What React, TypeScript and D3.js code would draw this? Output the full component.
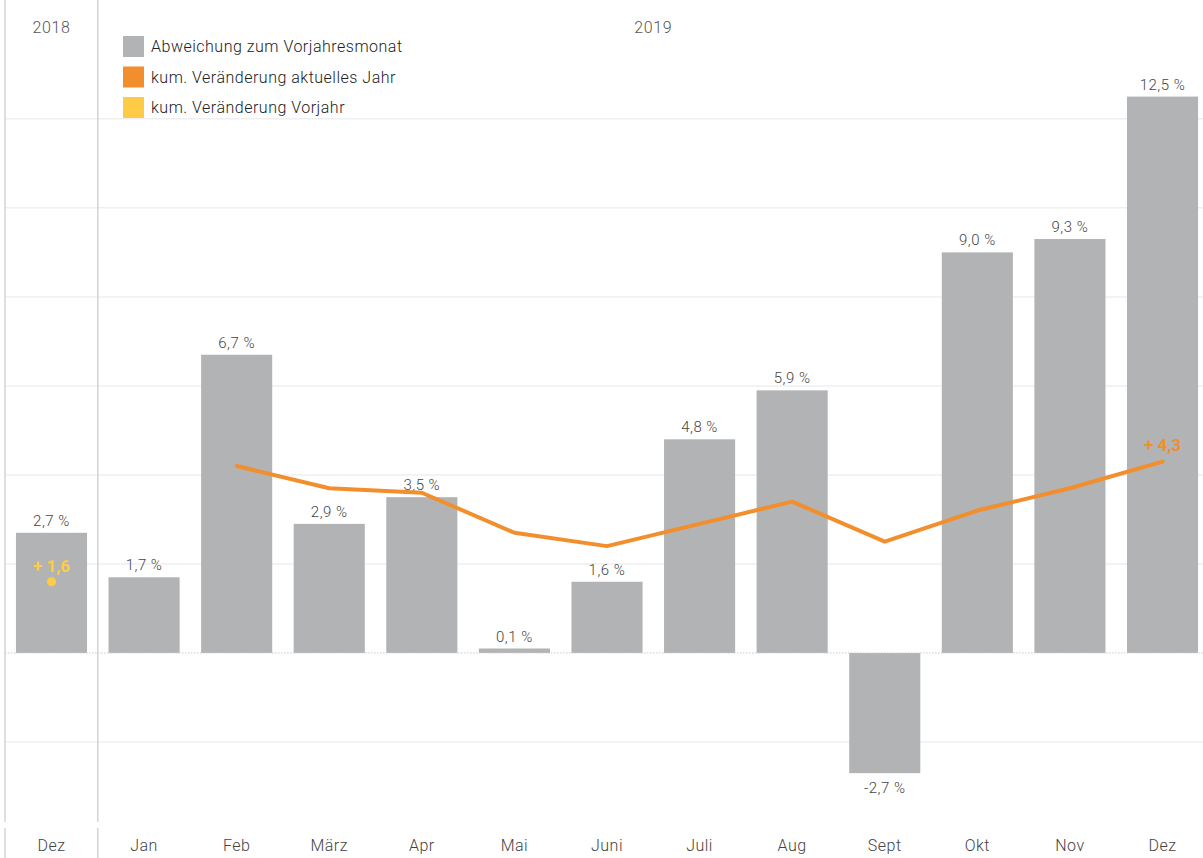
import * as d3 from "d3";
import React from "react";

const width = 1203;
const height = 858;

const keys = ["2018-12", "2019-01", "2019-02", "2019-03", "2019-04", "2019-05", "2019-06", "2019-07", "2019-08", "2019-09", "2019-10", "2019-11", "2019-12"];
const monthLabels = ["Dez", "Jan", "Feb", "März", "Apr", "Mai", "Juni", "Juli", "Aug", "Sept", "Okt", "Nov", "Dez"];
const deviation = [2.7, 1.7, 6.7, 2.9, 3.5, 0.1, 1.6, 4.8, 5.9, -2.7, 9.0, 9.3, 12.5];
const cumCurrent = [null, null, 4.2, 3.7, 3.6, 2.7, 2.4, 2.9, 3.4, 2.5, 3.2, 3.7, 4.3];
const cumPrevious = [1.6, null, null, null, null, null, null, null, null, null, null, null, null];
const gridTicks = [-2, 2, 4, 6, 8, 10, 12];
const legendItems = ["Abweichung zum Vorjahresmonat", "kum. Veränderung aktuelles Jahr", "kum. Veränderung Vorjahr"];

const grey = "#b2b3b5";
const orange = "#f28e2b";
const yellow = "#ffcb47";
const font = "Roboto, sans-serif";

const x = d3.scaleBand().domain(keys).range([5.2, 1208.8]).paddingInner(0.232).paddingOuter(0.116);
const y = d3.scaleLinear().domain([-4, 14.67]).range([831, 0]);

const fmt = (v) => v.toFixed(1).replace(".", ",");

const App = () => {
  const cx = (i) => x(keys[i]) + x.bandwidth() / 2;

  const line = d3
    .line()
    .defined((d) => d != null)
    .x((_, i) => cx(i))
    .y((d) => y(d));

  const lastIdx = cumCurrent.length - 1;
  const sepX = (x(keys[0]) + x.bandwidth() + x(keys[1])) / 2;
  const yearMid = (sepX + x.range()[1]) / 2;

  return (
    <svg width={width} height={height} style={{ position: "absolute", left: 0, top: 0, background: "#fff" }} fontFamily={font}>
      {/* gridlines */}
      {gridTicks.map((t) => (
        <line key={t} x1={5} x2={width} y1={y(t)} y2={y(t)} stroke="#efefef" strokeWidth={1.5} />
      ))}

      {/* year separators */}
      {[5, sepX].map((lx, i) => (
        <g key={i} stroke="#d4d4d4" strokeWidth={1.5}>
          <line x1={lx} x2={lx} y1={0} y2={822} />
          <line x1={lx} x2={lx} y1={828} y2={height} />
        </g>
      ))}

      <text x={cx(0)} y={33} textAnchor="middle" fontSize={16} fontWeight={300} letterSpacing={0.6} fill="#555">2018</text>
      <text x={yearMid} y={33} textAnchor="middle" fontSize={16} fontWeight={300} letterSpacing={0.6} fill="#555">2019</text>

      {/* bars */}
      {deviation.map((v, i) => (
        <rect
          key={keys[i]}
          x={x(keys[i])}
          y={y(Math.max(0, v))}
          width={x.bandwidth()}
          height={Math.abs(y(v) - y(0))}
          fill={grey}
        />
      ))}

      {/* zero line */}
      <line x1={5} x2={width} y1={y(0)} y2={y(0)} stroke="#c8c8c8" strokeDasharray="1.5,1.5" strokeWidth={1} />

      {/* bar labels */}
      {deviation.map((v, i) => (
        <text
          key={keys[i]}
          x={cx(i)}
          y={v >= 0 ? y(v) - 7 : y(v) + 20}
          textAnchor="middle"
          fontSize={15}
          fontWeight={300}
          letterSpacing={0.5}
          fill="#444"
        >
          {fmt(v) + " %"}
        </text>
      ))}

      {/* cumulative line */}
      <path d={line(cumCurrent)} fill="none" stroke={orange} strokeWidth={4} strokeLinejoin="round" strokeLinecap="round" />
      <text x={cx(lastIdx)} y={y(cumCurrent[lastIdx]) - 11} textAnchor="middle" fontSize={17} fontWeight="bold" fill={orange}>
        {"+ " + fmt(cumCurrent[lastIdx])}
      </text>

      {/* previous year cumulative */}
      {cumPrevious.map((v, i) =>
        v == null ? null : (
          <g key={keys[i]}>
            <circle cx={cx(i)} cy={y(v)} r={4.5} fill={yellow} />
            <text x={cx(i)} y={y(v) - 10} textAnchor="middle" fontSize={17} fontWeight="bold" fill={yellow}>
              {"+ " + fmt(v)}
            </text>
          </g>
        )
      )}

      {/* month labels */}
      {monthLabels.map((m, i) => (
        <text key={keys[i]} x={cx(i)} y={851} textAnchor="middle" fontSize={16} fontWeight={300} letterSpacing={0.5} fill="#444">
          {m}
        </text>
      ))}

      {/* legend */}
      {legendItems.map((label, i) => (
        <g key={label} transform={`translate(123, ${36 + i * 30.5})`}>
          <rect width={21} height={21} fill={[grey, orange, yellow][i]} />
          <text x={28} y={16} fontSize={16} fontWeight={300} letterSpacing={0.5} fill="#222">
            {label}
          </text>
        </g>
      ))}
    </svg>
  );
};

export default App;
